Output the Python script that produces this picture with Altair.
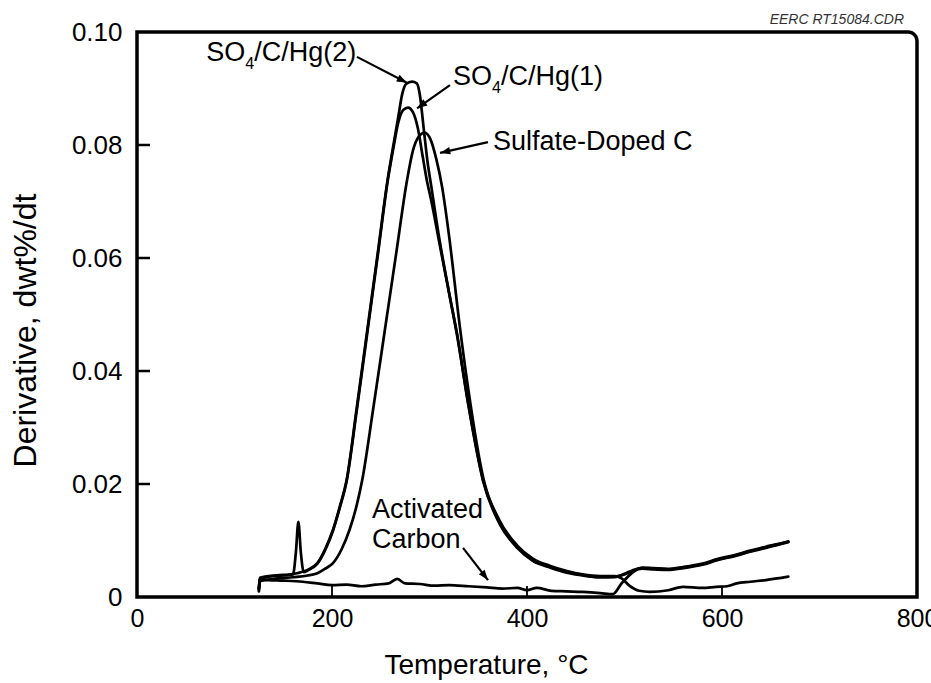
import altair as alt
import numpy as np
import pandas as pd

W, H = 780, 565
X_MAX, Y_MAX = 800, 0.10
FONT = "Liberation Sans"

# ---- thermal-desorption derivative curves (temperature in °C, derivative in dwt%/dt) ----
hg2_t = [125, 126, 135, 150, 164, 175, 185, 193, 201, 208, 215, 225, 236, 247, 257, 263,
         268, 272, 276, 282, 287, 290, 294, 298, 302, 310, 320, 328, 340, 355, 372, 390,
         406, 424, 441, 457, 475, 490, 500, 508, 518, 530, 544, 560, 580, 595, 612, 629,
         645, 663, 668]
hg2_v = [0.0012, 0.0032, 0.0036, 0.0038, 0.0042, 0.0048, 0.0060, 0.0085, 0.0119, 0.0160,
         0.0207, 0.0330, 0.0470, 0.0610, 0.0738, 0.0800, 0.0850, 0.0890, 0.0908, 0.0912,
         0.0909, 0.0890, 0.0830, 0.0770, 0.0725, 0.0635, 0.0540, 0.0468, 0.0340, 0.0207,
         0.0131, 0.0088, 0.0065, 0.0053, 0.0044, 0.0039, 0.0035, 0.0036, 0.0040, 0.0046,
         0.0050, 0.0049, 0.0048, 0.0051, 0.0057, 0.0065, 0.0072, 0.0080, 0.0087, 0.0095,
         0.0097]

hg1_t = [125, 126, 135, 150, 160, 163, 165.5, 168, 171, 175, 185, 193, 201, 208, 215, 225,
         236, 247, 257, 263, 268, 273, 278, 283, 288, 293, 297, 302, 310, 320, 328, 340,
         355, 372, 390, 406, 424, 441, 457, 475, 490, 500, 508, 518, 530, 544, 560, 580,
         595, 612, 629, 645, 663, 668]
hg1_v = [0.0015, 0.0034, 0.0037, 0.0039, 0.0040, 0.0080, 0.0133, 0.0080, 0.0044, 0.0047,
         0.0059, 0.0083, 0.0117, 0.0158, 0.0205, 0.0325, 0.0465, 0.0605, 0.0735, 0.0795,
         0.0840, 0.0862, 0.0866, 0.0858, 0.0830, 0.0780, 0.0740, 0.0700, 0.0628, 0.0538,
         0.0466, 0.0338, 0.0205, 0.0129, 0.0087, 0.0064, 0.0052, 0.0043, 0.0038, 0.0035,
         0.0035, 0.0041, 0.0047, 0.0051, 0.0050, 0.0049, 0.0052, 0.0058, 0.0066, 0.0073,
         0.0081, 0.0088, 0.0096, 0.0098]

sd_t = [125, 126, 140, 160, 175, 185, 193, 201, 210, 218, 225, 231, 242, 254, 266, 277,
        283, 289, 295, 301, 307, 313, 320, 331, 340, 355, 372, 390, 406, 424, 441, 457,
        475, 490, 497, 505, 515, 526, 545, 560, 580, 594, 605, 615, 629, 645, 668]
sd_v = [0.0010, 0.0028, 0.0032, 0.0035, 0.0038, 0.0042, 0.0050, 0.0060, 0.0085, 0.0119,
        0.0160, 0.0207, 0.0330, 0.0470, 0.0610, 0.0738, 0.0790, 0.0815, 0.0822, 0.0810,
        0.0775, 0.0725, 0.0640, 0.0480, 0.0365, 0.0212, 0.0135, 0.0091, 0.0068, 0.0055,
        0.0046, 0.0040, 0.0037, 0.0037, 0.0033, 0.0020, 0.0011, 0.0009, 0.0012, 0.0018,
        0.0016, 0.0018, 0.0019, 0.0024, 0.0027, 0.0030, 0.0036]

ac_t = [125, 126, 135, 150, 170, 185, 200, 215, 230, 245, 258, 267, 275, 290, 305, 320,
        340, 359, 375, 390, 400, 410, 425, 440, 457, 475, 488, 497, 506, 518, 530, 544,
        560, 580, 595, 612, 629, 645, 663, 668]
ac_v = [0.0015, 0.0031, 0.0030, 0.0029, 0.0027, 0.0024, 0.0021, 0.0022, 0.0019, 0.0022,
        0.0024, 0.0032, 0.0024, 0.0023, 0.0020, 0.0021, 0.0019, 0.0017, 0.0015, 0.0016,
        0.0012, 0.0016, 0.0011, 0.0010, 0.0009, 0.0007, 0.0005, 0.0024, 0.0040, 0.0052,
        0.0051, 0.0050, 0.0053, 0.0059, 0.0067, 0.0074, 0.0082, 0.0089, 0.0096, 0.0098]

series = [
    ("SO4/C/Hg(2)", hg2_t, hg2_v),
    ("SO4/C/Hg(1)", hg1_t, hg1_v),
    ("Sulfate-Doped C", sd_t, sd_v),
    ("Activated Carbon", ac_t, ac_v),
]

x_ticks = [0, 200, 400, 600, 800]
y_ticks = [0, 0.02, 0.04, 0.06, 0.08, 0.10]
inner_x_ticks = [200, 400, 600]
inner_y_ticks = [0.02, 0.04, 0.06, 0.08]

# ---- curve labels: left edge / baseline in data units ----
lab_text = ["SO", "SO", "Sulfate-Doped C", "Activated", "Carbon"]
lab_t = [71, 324, 365, 241, 241]
lab_d = [0.0949, 0.0906, 0.0791, 0.0140, 0.0087]
sub_text = ["4", "4"]
rest_text = ["/C/Hg(2)", "/C/Hg(1)"]

# ---- leader arrows: tail -> tip ----
arr_t1 = [225.6, 321.0, 360.0, 334.4]
arr_d1 = [0.0956, 0.0906, 0.0805, 0.0087]
arr_t2 = [276.9, 287.2, 310.8, 360.0]
arr_d2 = [0.0910, 0.0865, 0.0786, 0.0030]

curves = pd.concat(
    [pd.DataFrame({"T": t, "D": v, "series": name, "i": np.arange(len(t))})
     for name, t, v in series],
    ignore_index=True,
)

labels = pd.DataFrame({"txt": lab_text, "T": lab_t, "D": lab_d})
so_labels = labels.iloc[:2].copy()
so_labels["sub"] = sub_text
so_labels["rest"] = rest_text

arrows = pd.DataFrame({"T": arr_t2, "D": arr_d2, "T1": arr_t1, "D1": arr_d1})
# direction of each arrow in screen space (degrees clockwise from up)
dx_px = (arrows["T"] - arrows["T1"]) * W / X_MAX
dy_px = -(arrows["D"] - arrows["D1"]) * H / Y_MAX
arrows["angle"] = (np.degrees(np.arctan2(dx_px, -dy_px)) + 360) % 360

xs = alt.Scale(domain=[0, X_MAX], nice=False, zero=False)
ys = alt.Scale(domain=[0, Y_MAX], nice=False, zero=False)

x_axis = alt.Axis(
    values=x_ticks, format="d", title="Temperature, °C", domain=False, ticks=False,
    grid=False, labelFont=FONT, labelFontSize=25, labelColor="black", labelPadding=9,
    labelFlush=False, titleFont=FONT, titleFontSize=28, titleFontWeight="normal",
    titleColor="black", titleX=349, titleY=76, titleBaseline="alphabetic",
    titleAlign="center")
y_axis = alt.Axis(
    values=y_ticks, labelExpr="datum.value == 0 ? '0' : format(datum.value, '.2f')",
    title="Derivative, dwt%/dt", domain=False, ticks=False, grid=False,
    labelFont=FONT, labelFontSize=26, labelColor="black", labelPadding=15,
    titleFont=FONT, titleFontSize=32, titleFontWeight="normal", titleColor="black",
    titleX=-112, titleY=298, titleAngle=-90, titleAlign="center",
    titleBaseline="middle")

X = alt.X("T:Q", scale=xs, axis=x_axis)
Y = alt.Y("D:Q", scale=ys, axis=y_axis)

lines = alt.Chart(curves).mark_line(
    color="black", strokeWidth=2.7, strokeJoin="round", strokeCap="round",
    interpolate="monotone"
).encode(x=X, y=Y, detail="series:N", order="i:Q")

one = pd.DataFrame({"k": [0]})
frame = alt.Chart(one).mark_rect(
    fillOpacity=0, stroke="black", strokeWidth=3.5, cornerRadiusTopRight=9
).encode(x=alt.value(0), x2=alt.value(W), y=alt.value(0), y2=alt.value(H))

xt = alt.Chart(pd.DataFrame({"T": inner_x_ticks})).mark_rule(
    color="black", strokeWidth=1.8
).encode(x=X, y=alt.value(H), y2=alt.value(H - 11))

yt = alt.Chart(pd.DataFrame({"D": inner_y_ticks})).mark_rule(
    color="black", strokeWidth=2.5
).encode(y=Y, x=alt.value(0), x2=alt.value(13))

text_base = alt.Chart(labels).mark_text(
    font=FONT, fontSize=27, align="left", baseline="alphabetic", color="black"
).encode(x=X, y=Y, text="txt:N")

sub = alt.Chart(so_labels).mark_text(
    font=FONT, fontSize=16, align="left", baseline="alphabetic", color="black",
    dx=39, dy=8
).encode(x=X, y=Y, text="sub:N")

rest = alt.Chart(so_labels).mark_text(
    font=FONT, fontSize=27, align="left", baseline="alphabetic", color="black", dx=48
).encode(x=X, y=Y, text="rest:N")

shafts = alt.Chart(arrows).mark_rule(color="black", strokeWidth=2.2).encode(
    x=X, y=Y, x2="T1:Q", y2="D1:Q",
)

heads = alt.Chart(arrows).mark_point(
    shape="M0,0 L0.36,1 L-0.36,1 Z", filled=True, size=420, color="black", opacity=1
).encode(x=X, y=Y, angle=alt.Angle("angle:Q", scale=None))

stamp = alt.Chart(one).mark_text(
    text="EERC RT15084.CDR", font=FONT, fontSize=14, fontStyle="italic",
    align="right", baseline="alphabetic", color="#333333"
).encode(x=alt.value(767), y=alt.value(-8))

chart = alt.layer(
    lines, frame, xt, yt, text_base, sub, rest, shafts, heads, stamp
).properties(
    width=W, height=H,
    padding={"left": 137, "top": 32, "right": 14, "bottom": 86},
    autosize=alt.AutoSizeParams(type="none"),
    background="white",
).configure_view(strokeWidth=0)

chart.save("out.html", embed_options={"renderer": "svg", "actions": False})
